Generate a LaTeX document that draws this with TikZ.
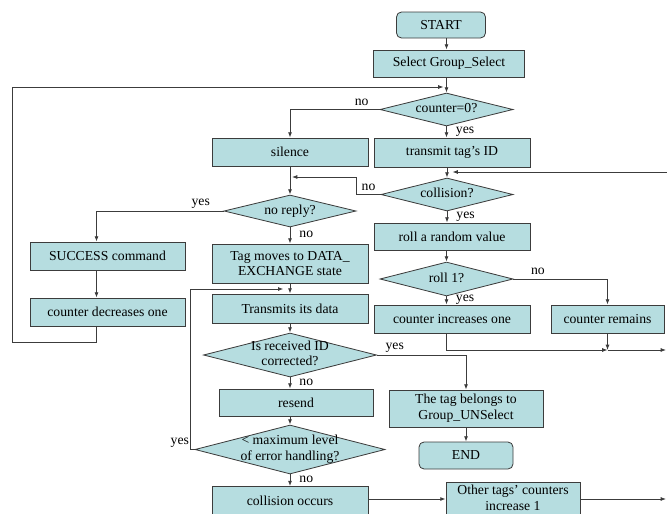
\documentclass[tikz,border=0pt]{standalone}
\usepackage{fontspec}
\setmainfont{Liberation Serif}
\usetikzlibrary{arrows.meta,shapes.geometric}
\definecolor{boxcyan}{RGB}{182,221,224}
\definecolor{linegray}{RGB}{60,60,60}
\newcommand{\dtext}[1]{\smash{\makebox[0pt]{\raisebox{-.25em}{\begin{tabular}{@{}c@{}}#1\end{tabular}}}}}

\begin{document}
\begin{tikzpicture}[x=0.3mm, y=-0.3mm, font=\fontsize{11.7}{13.5}\selectfont,
  block/.style={draw=linegray, line width=0.7pt, fill=boxcyan, minimum width=46.8mm, minimum height=8.4mm, inner sep=1pt, align=center},
  terminal/.style={block, rounded corners=1.5mm},
  decision/.style={diamond, draw=linegray, line width=0.7pt, fill=boxcyan, inner sep=0pt, minimum width=39.9mm, minimum height=9.9mm},
  flow/.style={draw=linegray, line width=0.7pt, -{Latex[length=1.6mm,width=1.2mm]}},
  tagyes/.style={right, inner sep=0pt, xshift=2.7mm, pos=0.45}]
\useasboundingbox (0,0) rectangle (667,513);

\node[terminal, minimum width=26.7mm, minimum height=7.8mm] (start) at (441,25) {START};
\node[block, minimum width=45.3mm, minimum height=8.1mm] (select) at (449,63.5) {Select Group\_Select};
\node[decision] (cnt) at (446.5,109.5) {\dtext{counter=0?}};
\node[block, minimum height=8.7mm] (transmit) at (452,152.5) {transmit tag's ID};
\node[block] (silence) at (290,152) {silence};
\node[decision, minimum width=39.6mm] (coll) at (447,194.5) {\dtext{collision?}};
\node[decision, minimum width=39.6mm, minimum height=9.6mm] (noreply) at (290,211) {\dtext{no reply?}};
\node[block, minimum height=8.1mm] (roll) at (452,236.5) {roll a random value};
\node[decision, minimum height=10.2mm] (rollone) at (446.5,279) {\dtext{roll 1?}};
\node[block, minimum width=46.5mm] (success) at (107.5,256) {SUCCESS command};
\node[block, minimum height=11.7mm] (tagmoves) at (290,263.5) {Tag moves to DATA\_\\EXCHANGE state};
\node[block, minimum width=46.5mm] (decr) at (107.5,312) {counter decreases one};
\node[block, minimum height=8.7mm] (data) at (290,308.5) {Transmits its data};
\node[block] (incr) at (452,319) {counter increases one};
\node[block, minimum width=33.9mm] (remains) at (607.5,319) {counter remains};
\node[decision, minimum width=51.9mm, minimum height=13.2mm] (idok) at (290,355) {\dtext{Is received ID\\corrected?}};
\node[block, minimum width=46.2mm, minimum height=11.1mm] (belongs) at (466,408.5) {The tag belongs to\\Group\_UNSelect};
\node[block, minimum width=46.2mm, minimum height=8.1mm] (resend) at (296,402.5) {resend};
\node[decision, minimum width=57mm, minimum height=14.7mm] (maxerr) at (290,449.5) {\dtext{< maximum level\\of error handling?}};
\node[terminal, minimum width=28.2mm, minimum height=8.1mm] (finish) at (466,455.5) {END};
\node[block] (collocc) at (290,500.5) {collision occurs};
\node[block, minimum width=40.2mm, minimum height=9.6mm] (other) at (513,498) {Other tags' counters\\increase 1};

\coordinate (joinA) at (446.5,87);
\coordinate (joinB) at (290,177);
\coordinate (joinC) at (446.5,172);
\coordinate (joinD) at (290,289);
\coordinate (joinE) at (607.5,350);
\coordinate (loopA) at (12,342);
\coordinate (loopB) at (12,87);
\coordinate (edgeA) at (667,172);
\coordinate (edgeB) at (666,350);
\coordinate (edgeC) at (666,499);

\draw[flow] (start.south -| cnt) -- (select.north -| cnt);
\draw[flow] (select.south -| cnt) -- (cnt.north);
\draw[flow] (cnt.south) -- (cnt.south |- transmit.north) node[tagyes]{yes};
\draw[flow] (cnt.west) -| (silence.north) node[pos=0.1, above]{no};
\draw[flow] (transmit.south -| coll) -- (coll.north);
\draw[flow, shorten >=1.8mm] (edgeA) -- (joinC);
\draw[flow] (coll.south) -- (coll.south |- roll.north) node[tagyes]{yes};
\draw[flow, shorten >=0.6mm] (coll.west) -- ++(-24,0) node[midway, above]{no} |- (joinB);
\draw[flow] (silence.south) -- (noreply.north);
\draw[flow] (noreply.west) -| ([xshift=-3.3mm]success.north) node[pos=0.09, above, inner sep=2pt]{yes};
\draw[flow] (noreply.south) -- (tagmoves.north) node[tagyes]{no};
\draw[flow] ([xshift=-3.3mm]success.south) -- ([xshift=-3.3mm]decr.north);
\draw[flow, shorten >=0.9mm] ([xshift=-3.3mm]decr.south) |- (loopA) -- (loopB) -- (joinA);
\draw[flow] (tagmoves.south) -- (data.north);
\draw[flow] (data.south) -- (idok.north);
\draw[flow] (idok.east) -| (belongs.north) node[pos=0.1, above, inner sep=2pt]{yes};
\draw[flow] (idok.south) -- (idok.south |- resend.north) node[tagyes]{no};
\draw[flow] (resend.south -| maxerr) -- (maxerr.north);
\draw[flow, shorten >=2mm] (maxerr.west) -- ++(-4,0) node[above left, inner sep=1pt]{yes} |- (joinD);
\draw[flow] (maxerr.south) -- (maxerr.south |- collocc.north) node[tagyes]{no};
\draw[flow] (collocc.east |- edgeC) -- (other.west |- edgeC);
\draw[flow] (other.east |- edgeC) -- (edgeC);
\draw[flow] (belongs.south) -- (finish.north);
\draw[flow] (roll.south -| rollone) -- (rollone.north);
\draw[flow] (rollone.south) -- (rollone.south |- incr.north) node[tagyes]{yes};
\draw[flow] (rollone.east) -| (remains.north) node[pos=0.13, above]{no};
\draw[flow] (rollone |- incr.south) |- (joinE);
\draw[flow] (remains.south) -- (joinE);
\draw[flow] (joinE) -- (edgeB);
\end{tikzpicture}
\end{document}
